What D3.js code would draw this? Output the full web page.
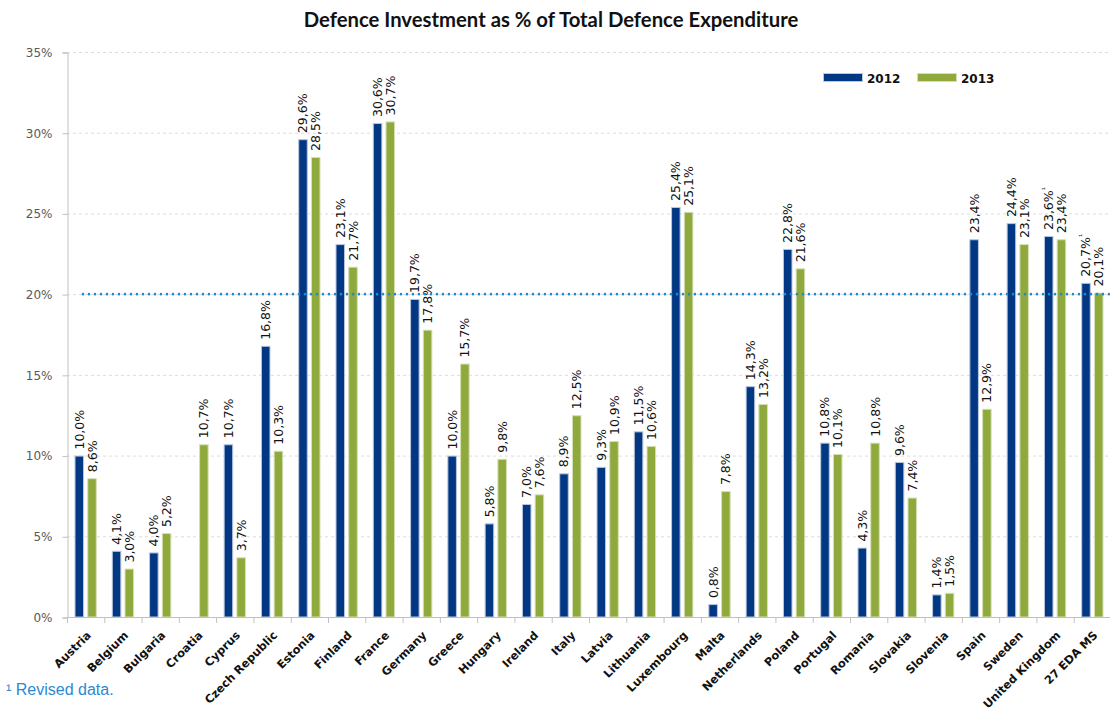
<!DOCTYPE html>
<html>
<head>
<meta charset="utf-8">
<script src="https://cdn.jsdelivr.net/npm/d3@7"></script>
<style>
  html, body { margin: 0; padding: 0; background: #fff; }
  svg { display: block; }
</style>
</head>
<body>
<svg id="chart" width="1110" height="711"></svg>
<script>
// Defence investment share of total defence expenditure, by EDA member state
const countries = ["Austria", "Belgium", "Bulgaria", "Croatia", "Cyprus", "Czech Republic",
  "Estonia", "Finland", "France", "Germany", "Greece", "Hungary", "Ireland", "Italy",
  "Latvia", "Lithuania", "Luxembourg", "Malta", "Netherlands", "Poland", "Portugal",
  "Romania", "Slovakia", "Slovenia", "Spain", "Sweden", "United Kingdom", "27 EDA MS"];

const values2012 = [10.0, 4.1, 4.0, null, 10.7, 16.8, 29.6, 23.1, 30.6, 19.7, 10.0, 5.8, 7.0, 8.9,
  9.3, 11.5, 25.4, 0.8, 14.3, 22.8, 10.8, 4.3, 9.6, 1.4, 23.4, 24.4, 23.6, 20.7];

const values2013 = [8.6, 3.0, 5.2, 10.7, 3.7, 10.3, 28.5, 21.7, 30.7, 17.8, 15.7, 9.8, 7.6, 12.5,
  10.9, 10.6, 25.1, 7.8, 13.2, 21.6, 10.1, 10.8, 7.4, 1.5, 12.9, 23.1, 23.4, 20.1];

// 2012 figures that were revised (marked with a footnote sign)
const revised2012 = ["United Kingdom", "27 EDA MS"];

const years = ["2012", "2013"];
const yTicks = [0, 5, 10, 15, 20, 25, 30, 35];
const benchmark = 20;
const title = "Defence Investment as % of Total Defence Expenditure";
const footnote = "¹ Revised data.";

const colors = { "2012": "#023883", "2013": "#8fa93d" };
const outline = { "2012": "#b9c6dc", "2013": "#d5e0b5" };

const svg = d3.select("#chart");
const W = 1110, H = 711;
const plot = { left: 67, right: 1111, top: 52, bottom: 617 };

const x = d3.scaleBand().domain(countries).range([plot.left, plot.right]).paddingInner(0).paddingOuter(0);
const xs = d3.scaleBand().domain(years).range([7.5, x.bandwidth() - 7.5]).paddingInner(0.25);
const y = d3.scaleLinear().domain([0, 35]).range([plot.bottom, plot.top]);

const fmt = v => d3.format(".1f")(v).replace(".", ",") + "%";

// Title
svg.append("text")
  .attr("x", 551).attr("y", 27)
  .attr("text-anchor", "middle")
  .style("font-family", "Lato, 'Open Sans', sans-serif")
  .style("font-weight", 700)
  .style("font-size", "20.3px")
  .style("fill", "#111")
  .text(title);

// Horizontal gridlines
svg.append("g")
  .selectAll("line")
  .data(yTicks.filter(d => d > 0))
  .join("line")
  .attr("x1", plot.left).attr("x2", plot.right)
  .attr("y1", d => y(d) + 0.5).attr("y2", d => y(d) + 0.5)
  .attr("stroke", "#dcdcdc")
  .attr("stroke-dasharray", "3,3");

// Y axis
const yAxis = d3.axisLeft(y)
  .tickValues(yTicks)
  .tickFormat(d => d + "%")
  .tickSize(5)
  .tickPadding(10);
const gy = svg.append("g").attr("transform", `translate(${plot.left + 0.5},0.5)`).call(yAxis);
gy.select(".domain").attr("stroke", "#c0c0c0");
gy.selectAll(".tick line").attr("stroke", "#c0c0c0");
gy.selectAll(".tick text")
  .style("font-family", "'DejaVu Sans', Verdana, sans-serif")
  .style("font-size", "12px")
  .style("fill", "#595959");

// Bars
const rows = countries.map((c, i) => ({ country: c, "2012": values2012[i], "2013": values2013[i] }));

const groups = svg.append("g")
  .selectAll("g")
  .data(rows)
  .join("g")
  .attr("transform", d => `translate(${x(d.country)},0)`);

const cells = groups.selectAll("g.cell")
  .data(d => years.map(yr => ({ year: yr, value: d[yr], country: d.country })).filter(e => e.value != null))
  .join("g").attr("class", "cell");

cells.append("rect")
  .attr("x", d => xs(d.year) + 0.5)
  .attr("width", xs.bandwidth() - 1)
  .attr("y", d => y(d.value) + 0.5)
  .attr("height", d => y(0) - y(d.value) - 0.5)
  .attr("fill", d => colors[d.year])
  .attr("stroke", d => outline[d.year])
  .attr("stroke-width", 1);

// Value labels, rotated, above each bar
const lbl = cells.append("text")
  .attr("transform", d => `translate(${xs(d.year) + xs.bandwidth() / 2 + 4.5},${y(d.value) - 6}) rotate(-90)`)
  .attr("text-anchor", "start")
  .style("font-family", "'DejaVu Sans', Verdana, sans-serif")
  .style("font-size", "12.5px")
  .style("fill", "#111");
lbl.append("tspan").text(d => fmt(d.value));
lbl.filter(d => d.year === "2012" && revised2012.includes(d.country))
  .append("tspan")
  .attr("dy", -5)
  .style("font-size", "8px")
  .text("¹");

// Benchmark line at 20%
svg.append("line")
  .attr("x1", 83).attr("x2", W)
  .attr("y1", y(benchmark)).attr("y2", y(benchmark))
  .attr("stroke", "#1b8ad6")
  .attr("stroke-width", 2.6)
  .attr("stroke-linecap", "round")
  .attr("stroke-dasharray", "0,6");

// X axis
const xAxisLine = svg.append("g");
xAxisLine.append("line")
  .attr("x1", plot.left).attr("x2", plot.right)
  .attr("y1", plot.bottom + 0.5).attr("y2", plot.bottom + 0.5)
  .attr("stroke", "#c0c0c0");
xAxisLine.selectAll("line.tick")
  .data(countries)
  .join("line").attr("class", "tick")
  .attr("x1", d => x(d) + 0.5).attr("x2", d => x(d) + 0.5)
  .attr("y1", plot.bottom).attr("y2", plot.bottom + 6)
  .attr("stroke", "#c0c0c0");

svg.append("g")
  .selectAll("text")
  .data(countries)
  .join("text")
  .attr("transform", d => `translate(${x(d) + x.bandwidth() / 2 + 6},${plot.bottom + 19}) rotate(-45)`)
  .attr("text-anchor", "end")
  .style("font-family", "'DejaVu Sans', Verdana, sans-serif")
  .style("font-weight", 700)
  .style("font-size", "11.4px")
  .style("fill", "#111")
  .text(d => d);

// Legend
const legend = svg.append("g").attr("transform", "translate(823,73)");
years.forEach((yr, i) => {
  const g = legend.append("g").attr("transform", `translate(${i * 94},0)`);
  g.append("rect")
    .attr("x", 0.5).attr("y", 0.5).attr("width", 39).attr("height", 8)
    .attr("fill", colors[yr]).attr("stroke", outline[yr]);
  g.append("text")
    .attr("x", 44).attr("y", 9.5)
    .style("font-family", "'DejaVu Sans', Verdana, sans-serif")
    .style("font-weight", 700)
    .style("font-size", "12px")
    .style("fill", "#111")
    .text(yr);
});

// Footnote
svg.append("text")
  .attr("x", 6).attr("y", 695)
  .style("font-family", "'Liberation Sans', Arial, sans-serif")
  .style("font-size", "16px")
  .style("fill", "#2a8ad4")
  .text(footnote);
</script>
</body>
</html>
